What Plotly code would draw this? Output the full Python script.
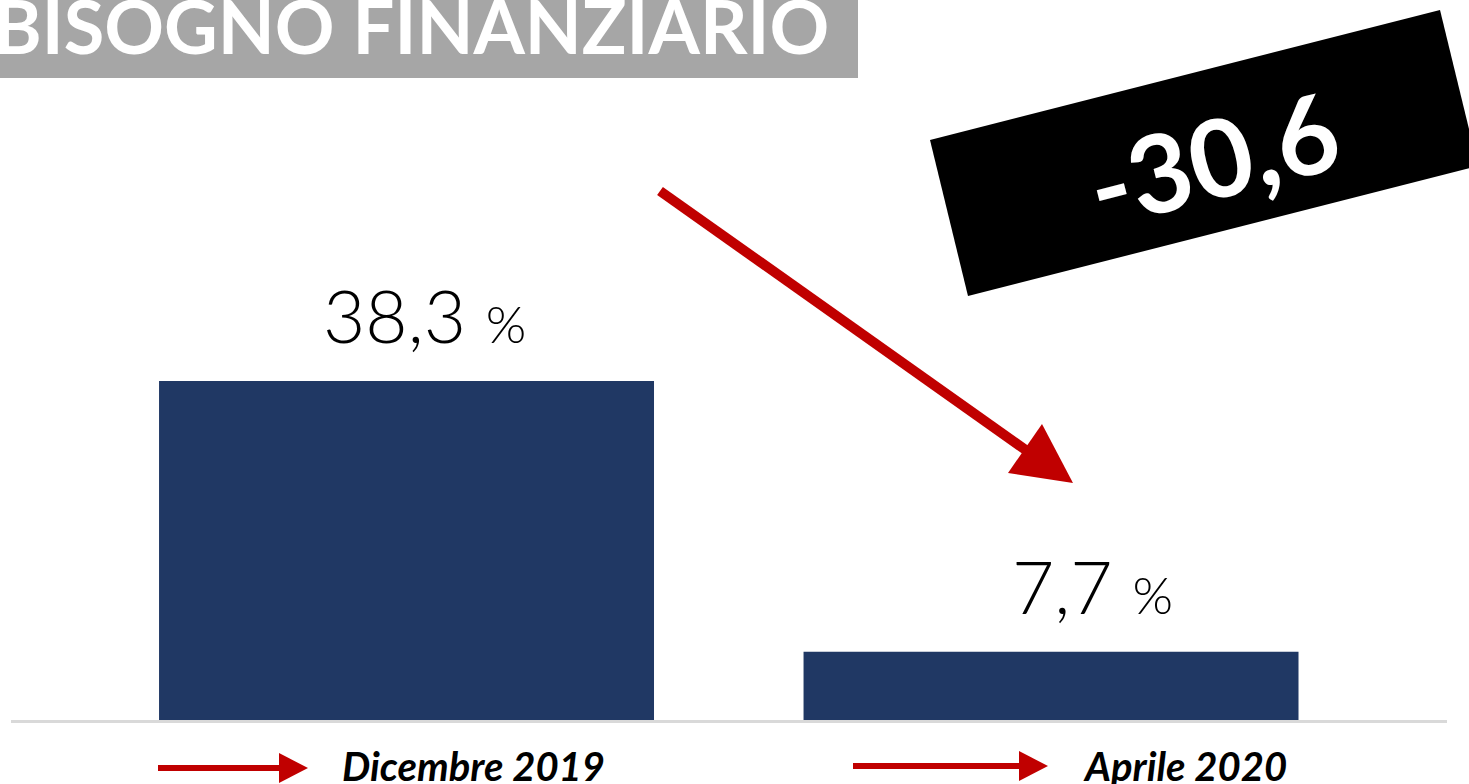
import plotly.graph_objects as go

# data
periods = ["Dicembre 2019", "Aprile 2020"]
values = [38.3, 7.7]
value_labels = ["38,3", "7,7"]
change_label = "-30,6"
title_text = "BISOGNO FINANZIARIO"

W_FIG, H_FIG = 1469, 784
L, R, T, B = 11, 22, 0, 64
PW, PH = W_FIG - L - R, H_FIG - T - B

NAVY = "#203864"
RED = "#C00000"


def px(x):
    return (x - L) / PW


def py(y):
    return 1 - (y - T) / PH


def path(points):
    return "M " + " L ".join(f"{px(x):.5f},{py(y):.5f}" for x, y in points) + " Z"


fig = go.Figure()
fig.add_trace(go.Bar(
    x=periods,
    y=values,
    width=0.768,
    marker=dict(color=NAVY, line=dict(width=0)),
    hoverinfo="skip",
))

shapes = [
    # title box
    dict(type="rect", xref="paper", yref="paper", x0=px(0), x1=px(858), y0=py(78), y1=py(0),
         fillcolor="#A6A6A6", line=dict(width=0), layer="below"),
    # black rotated box
    dict(type="path", xref="paper", yref="paper",
         path=path([(930, 140), (1440, 10), (1478, 166), (968, 296)]),
         fillcolor="black", line=dict(width=0)),
    # diagonal arrow
    dict(type="line", xref="paper", yref="paper", x0=px(660), y0=py(191), x1=px(1030), y1=py(453),
         line=dict(color=RED, width=10)),
    dict(type="path", xref="paper", yref="paper",
         path=path([(1042, 424), (1073, 483), (1008, 473)]),
         fillcolor=RED, line=dict(width=0)),
]

# small arrows in front of the period labels
for x0, x1, y in [(158, 281, 768), (853, 1021, 766)]:
    shapes.append(dict(type="line", xref="paper", yref="paper", x0=px(x0), y0=py(y), x1=px(x1), y1=py(y),
                       line=dict(color=RED, width=6)))
    shapes.append(dict(type="path", xref="paper", yref="paper",
                       path=path([(x1 - 2, y - 15), (x1 + 27, y), (x1 - 2, y + 15)]),
                       fillcolor=RED, line=dict(width=0)))

annotations = [
    dict(text=title_text, xref="paper", yref="paper", x=px(831), y=py(26),
         xanchor="right", yanchor="middle", showarrow=False,
         font=dict(family="Lato", size=74, color="white", weight="bold")),
    dict(text=change_label, xref="paper", yref="paper", x=px(1212), y=py(157),
         xanchor="center", yanchor="middle", showarrow=False, textangle=-14.3,
         font=dict(family="Lato", size=108, color="white", weight="bold")),
]

label_shift = [18, 41]
for p, v, lab, s in zip(periods, values, value_labels, label_shift):
    annotations.append(dict(
        text=f"{lab} <span style='font-size:52px'>%</span>",
        x=p, y=v, xref="x", yref="y", xanchor="center", yanchor="middle",
        xshift=s, yshift=66, showarrow=False,
        font=dict(family="Lato", size=73, color="black", weight=300),
    ))

label_x = [340, 1081]
for p, lx in zip(periods, label_x):
    annotations.append(dict(
        text=f"<b><i>{p}</i></b>", xref="paper", yref="paper", x=px(lx), y=py(766),
        xanchor="left", yanchor="middle", showarrow=False,
        font=dict(family="Lato", size=40, color="black"),
    ))

fig.update_layout(
    width=W_FIG,
    height=H_FIG,
    margin=dict(l=L, r=R, t=T, b=B, pad=0),
    paper_bgcolor="white",
    plot_bgcolor="white",
    showlegend=False,
    shapes=shapes,
    annotations=annotations,
    xaxis=dict(range=[-0.6137, 1.6144], showticklabels=False, ticks="", showgrid=False,
               zeroline=False, showline=True, linecolor="#D9D9D9", linewidth=3, fixedrange=True),
    yaxis=dict(range=[0, PH / 8.851], visible=False, fixedrange=True),
)

# page has a default 8px body margin; drop it so the figure sits at the corner
fig.write_html("out.html", config={"displayModeBar": False},
               post_script="document.body.style.margin='0';")
